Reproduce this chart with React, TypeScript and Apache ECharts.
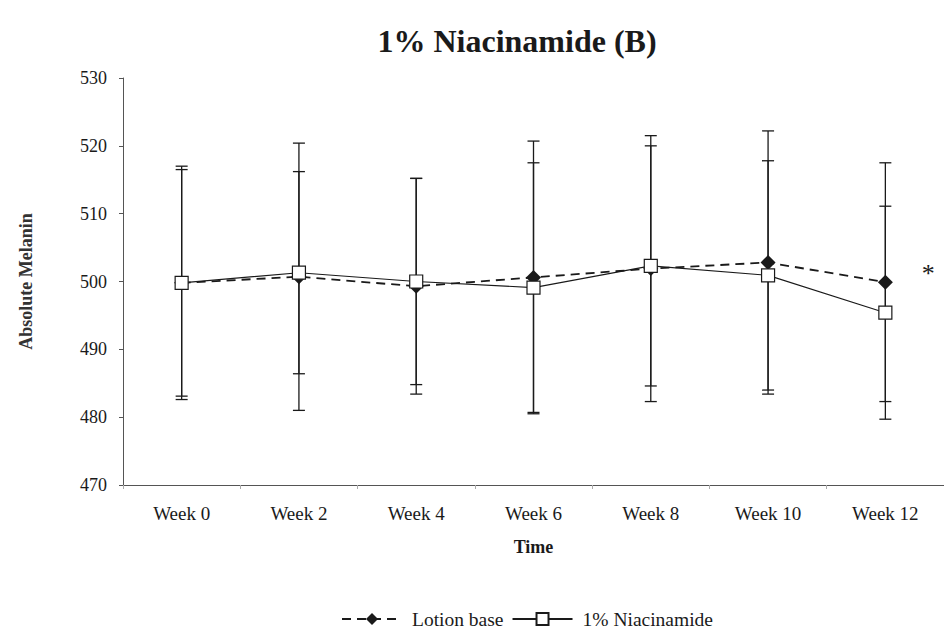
import React, { useEffect, useRef } from "react";
import * as echarts from "echarts";

// Time points and group statistics (mean ± SD of absolute melanin)
const categories = ["Week 0", "Week 2", "Week 4", "Week 6", "Week 8", "Week 10", "Week 12"];
const lotionMean = [499.8, 500.7, 499.3, 500.6, 501.9, 502.8, 499.9];
const lotionSD = [17.2, 19.7, 15.9, 20.1, 19.6, 19.4, 17.6];
const niacMean = [499.8, 501.3, 500.0, 499.1, 502.3, 500.9, 495.4];
const niacSD = [16.7, 14.9, 15.2, 18.4, 17.7, 16.9, 15.7];
const yTicks = { min: 470, max: 530, interval: 10 };
const significanceMark = "*";

const FONT = "'Liberation Serif', 'Times New Roman', serif";
const INK = "#1a1a1a";

function errorBarSeries(name: string, mean: number[], sd: number[], z: number) {
  return {
    type: "custom",
    name,
    z,
    silent: true,
    encode: { x: 0, y: [1, 2] },
    data: mean.map((m, i) => [i, m - sd[i], m + sd[i]]),
    renderItem: (_params: any, api: any) => {
      const i = api.value(0);
      const lo = api.coord([i, api.value(1)]);
      const hi = api.coord([i, api.value(2)]);
      const half = 6;
      const style = { stroke: INK, lineWidth: 1.3 };
      return {
        type: "group",
        children: [
          { type: "line", shape: { x1: lo[0], y1: lo[1], x2: hi[0], y2: hi[1] }, style },
          { type: "line", shape: { x1: hi[0] - half, y1: hi[1], x2: hi[0] + half, y2: hi[1] }, style },
          { type: "line", shape: { x1: lo[0] - half, y1: lo[1], x2: lo[0] + half, y2: lo[1] }, style },
        ],
      };
    },
  };
}

export default function App() {
  const ref = useRef<HTMLDivElement>(null);

  useEffect(() => {
    if (!ref.current) return;
    const chart = echarts.init(ref.current, null, { renderer: "svg" });

    const lotionData = lotionMean.map((v, i) =>
      i === lotionMean.length - 1
        ? {
            value: v,
            label: {
              show: true,
              formatter: significanceMark,
              position: "right",
              distance: 29,
              offset: [0, -9],
              fontSize: 26,
              fontFamily: FONT,
              color: INK,
            },
          }
        : v
    );

    chart.setOption({
      animation: false,
      backgroundColor: "#ffffff",
      title: {
        text: "1% Niacinamide (B)",
        left: 512,
        top: 20,
        textAlign: "center",
        textStyle: { fontFamily: FONT, fontSize: 32, fontWeight: "bold", color: INK },
      },
      legend: {
        data: ["Lotion base", "1% Niacinamide"],
        left: 336,
        top: 604,
        itemWidth: 60,
        itemHeight: 15,
        itemGap: 8,
        textStyle: { fontFamily: FONT, fontSize: 19.5, color: INK, padding: [0, 0, 0, 5] },
      },
      grid: { left: 123, right: -8, top: 78, bottom: 150 },
      xAxis: {
        type: "category",
        data: categories,
        boundaryGap: true,
        name: "Time",
        nameLocation: "middle",
        nameGap: 53,
        nameTextStyle: { fontFamily: FONT, fontSize: 18, fontWeight: "bold", color: INK },
        axisLine: { lineStyle: { color: "#555", width: 1 } },
        axisTick: { show: true, length: 4, lineStyle: { color: "#aaa" } },
        axisLabel: { fontFamily: FONT, fontSize: 19, color: INK, margin: 19 },
        splitLine: { show: false },
      },
      yAxis: {
        type: "value",
        min: yTicks.min,
        max: yTicks.max,
        interval: yTicks.interval,
        name: "Absolute Melanin",
        nameLocation: "middle",
        nameRotate: 90,
        nameGap: 88,
        nameTextStyle: { fontFamily: FONT, fontSize: 18, fontWeight: "bold", color: "#333" },
        axisLine: { show: true, lineStyle: { color: "#555", width: 1 } },
        axisTick: { show: true, length: 4, lineStyle: { color: "#555" } },
        axisLabel: { fontFamily: FONT, fontSize: 18, color: INK, margin: 16 },
        splitLine: { show: false },
      },
      series: [
        errorBarSeries("Lotion base SD", lotionMean, lotionSD, 1),
        errorBarSeries("1% Niacinamide SD", niacMean, niacSD, 1),
        {
          name: "Lotion base",
          type: "line",
          z: 3,
          data: lotionData,
          symbol: "diamond",
          symbolSize: 15,
          itemStyle: { color: INK, borderColor: INK, borderWidth: 0 },
          lineStyle: { color: INK, width: 1.8, type: [9, 6] },
        },
        {
          name: "1% Niacinamide",
          type: "line",
          z: 4,
          data: niacMean,
          symbol: "rect",
          symbolSize: 13,
          itemStyle: { color: "#ffffff", borderColor: INK, borderWidth: 1.2 },
          lineStyle: { color: INK, width: 1.1, type: "solid" },
        },
      ],
    });

    return () => chart.dispose();
  }, []);

  return (
    <div
      ref={ref}
      style={{ position: "fixed", left: 0, top: 0, width: 944, height: 635, background: "#fff" }}
    />
  );
}
